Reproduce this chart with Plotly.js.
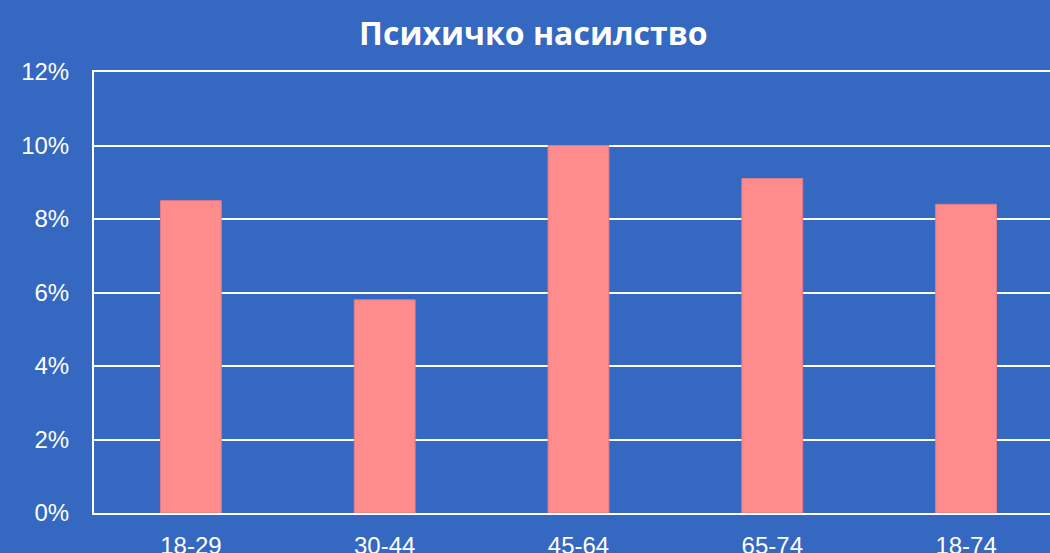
<!DOCTYPE html>
<html>
<head>
<meta charset="utf-8">
<script src="https://cdn.plot.ly/plotly-3.0.1.min.js"></script>
<style>html,body{margin:0;padding:0;background:#3468C1;}#chart{width:1050px;height:553px;}</style>
</head>
<body>
<div id="chart"></div>
<script>
const categories = ["18-29", "30-44", "45-64", "65-74", "18-74"];
const values = [8.5, 5.8, 10.0, 9.1, 8.4];
const tickVals = [0, 2, 4, 6, 8, 10, 12];
const tickText = ["0%", "2%", "4%", "6%", "8%", "10%", "12%"];
const chartTitle = "Психичко насилство";

const trace = {
  type: "bar",
  x: categories,
  y: values,
  marker: { color: "#FF8C8C", line: { color: "#E07C86", width: 1 } },
  hoverinfo: "skip"
};

const layout = {
  width: 1050, height: 553,
  paper_bgcolor: "#3468C1",
  plot_bgcolor: "#3468C1",
  margin: { l: 94, r: 0, t: 72, b: 40, pad: 0 },
  showlegend: false,
  bargap: 0.686,
  title: {
    text: chartTitle,
    font: { family: "Open Sans, sans-serif", size: 32, color: "#FFFFFF", weight: 700 },
    xref: "container", x: 0.508, xanchor: "center",
    yref: "container", y: 1 - 34 / 553, yanchor: "middle"
  },
  xaxis: {
    type: "category",
    range: [-0.5, 4.433],
    showgrid: false,
    showline: true, linecolor: "#FFFFFF", linewidth: 2, mirror: true,
    ticks: "outside", ticklen: 10, tickcolor: "rgba(0,0,0,0)",
    tickfont: { family: "Liberation Sans, Arial, sans-serif", size: 24, color: "#FFFFFF" },
    fixedrange: true
  },
  yaxis: {
    range: [0, 12],
    tickvals: tickVals,
    ticktext: tickText,
    showgrid: true, gridcolor: "#FFFFFF", gridwidth: 2,
    showline: true, linecolor: "#FFFFFF", linewidth: 2,
    zeroline: false,
    ticks: "", ticklabelstandoff: 18,
    tickfont: { family: "Liberation Sans, Arial, sans-serif", size: 24, color: "#FFFFFF" },
    fixedrange: true
  }
};

Plotly.newPlot("chart", [trace], layout, { displayModeBar: false, staticPlot: true });
</script>
</body>
</html>
